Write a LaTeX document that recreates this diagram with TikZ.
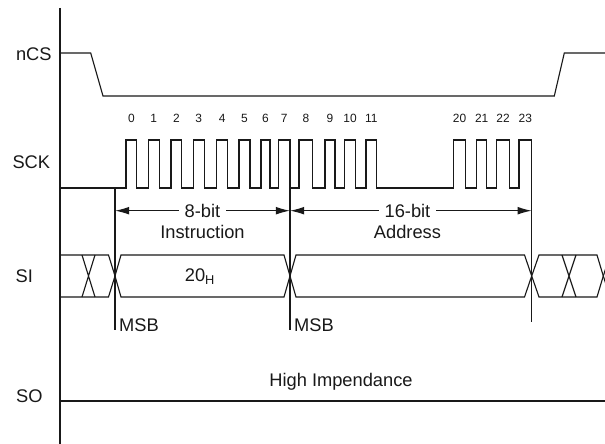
\documentclass[tikz,border=0pt]{standalone}
\usepackage{fontspec}
\setmainfont{Liberation Sans}
\usetikzlibrary{positioning,calc,arrows.meta}
\tikzset{font=\fontsize{13}{15}\selectfont}
\tikzset{
	wave/.style={line width=0.8pt, draw=black!90},
	tick/.style={font=\fontsize{8.5}{10}\selectfont},
	dim/.style={line width=0.8pt, draw=black!90, <->, >={Latex[length=10pt,width=5.5pt]}},
	gap/.style={fill=white, inner xsep=4pt, inner ysep=1pt},
}

\begin{document}
\begin{tikzpicture}[x=0.025cm, y=-0.025cm]
	\useasboundingbox (0,0) rectangle (605,444);
	\clip (0,0) rectangle (605,444);
	\begin{scope}
		\tikzstyle{every node}=[align=center, inner sep=1pt, text=black!90]
		\node (ncs) at (33.8,53.8) {nCS};
		\node (sck) at (31.3,162.5) {SCK};
		\node (si) at (24.3,276.7) {SI};
		\node (so) at (29.3,396) {SO};

		\draw [wave] (60,8) -- (60,444);

		\draw [wave] (60,53) -- (90.7,53) -- (103,96) -- (554.3,96) -- (564.3,53) -- (605,53);

		\draw [wave] (60,188) foreach \r/\f in {126/136.7, 148.3/159.3, 171/181.7, 193.3/204.3, 216.7/227.7, 239/250, 261/270, 278.3/290, 299/312.7, 325/335, 344.3/355.7, 366/376.7, 453.3/465.7, 476.7/486.7, 496.7/509.3, 519/531.7} { -- (\r,188) -- (\r,140) -- (\f,140) -- (\f,188) };
		\foreach \r/\f/\n in {126/136.7/0, 148.3/159.3/1, 171/181.7/2, 193.3/204.3/3, 216.7/227.7/4, 239/250/5, 261/270/6, 278.3/290/7, 299/312.7/8, 325/335/9, 344.3/355.7/10, 366/376.7/11, 453.3/465.7/20, 476.7/486.7/21, 496.7/509.3/22, 519/531.7/23}
			\node [tick] (clk\n) at ({(\r+\f)/2},118) {\n};

		\coordinate (msba) at (115,188);
		\coordinate (msbb) at (290,188);
		\coordinate (adend) at (531.7,188);
		\draw [wave] (msba) -- ++(0,142);
		\draw [wave] (msbb) -- ++(0,142);
		\draw [wave] (adend) -- ++(0,134);
		\node [anchor=west] (msbla) at (117.5,325) {MSB};
		\node [anchor=west] (msblb) at (292.5,325) {MSB};

		\coordinate (ia) at (115,210.7);
		\coordinate (ib) at (290,210.7);
		\coordinate (ic) at (531.7,210.7);
		\draw [dim] (ia) -- node [gap] (bits8) {8-bit} (ib);
		\draw [dim] (ib) -- node [gap, pos=0.486] (bits16) {16-bit} (ic);
		\node (instr) at (202.5,232) {Instruction};
		\node (addr) at (407.5,232) {Address};

		\draw [wave] (60,255) -- (108.5,255) -- (115,276) -- (108.5,297) -- (60,297);
		\draw [wave] (82,255) -- (95,297) (82,297) -- (95,255);
		\draw [wave] (115,276) -- (121,255) -- (284,255) -- (290,276) -- (284,297) -- (121,297) -- cycle;
		\draw [wave] (290,276) -- (296,255) -- (524.5,255) -- (531.7,276) -- (524.5,297) -- (296,297) -- cycle;
		\draw [wave] (531.7,276) -- (539,255) -- (597,255) -- (603.3,276) -- (597,297) -- (539,297) -- cycle;
		\draw [wave] (562,297) -- (576,255) (562,255) -- (576,297);
		\draw [wave] (610,255) -- (603.3,276) -- (610,297);
		\node (cmd) at (200,276.5) {20\textsubscript{H}};

		\draw [wave] (60,401) -- (605,401);
		\node (hiz) at (341,381.7) {High Impendance};
	\end{scope}
\end{tikzpicture}
\end{document}
